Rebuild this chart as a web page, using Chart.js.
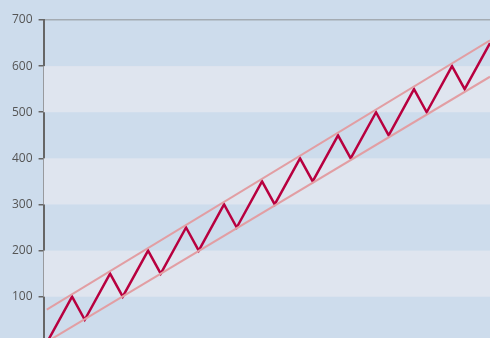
<!DOCTYPE html>
<html>
<head>
<meta charset="utf-8">
<script src="https://cdn.jsdelivr.net/npm/chart.js@4"></script>
<style>
  html, body { margin: 0; padding: 0; overflow: hidden; background: #cddcec; }
  #wrap { position: absolute; left: 0; top: 0; width: 490px; height: 356px; }
</style>
</head>
<body>
<div id="wrap"><canvas id="chart"></canvas></div>
<script>
// zigzag series
const zigX = [0, 2, 3, 5, 6, 8, 9, 11, 12, 14, 15, 17, 18, 20, 21, 23, 24, 26, 27, 29, 30, 32, 33, 35];
const zigY = [0, 100, 50, 150, 100, 200, 150, 250, 200, 300, 250, 350, 300, 400, 350, 450, 400, 500, 450, 550, 500, 600, 550, 650];

// channel lines (upper / lower)
const upperX = [0, 35];
const upperY = [72, 656];
const lowerX = [0, 35];
const lowerY = [2, 577];

// y axis
const yTicks = [0, 100, 200, 300, 400, 500, 600, 700];
const bands = [[100, 200], [300, 400], [500, 600]];

const toPoints = (xs, ys) => xs.map((x, i) => ({ x: x, y: ys[i] }));

const bandPlugin = {
    id: 'bands',
    beforeDatasetsDraw(chart) {
        const { ctx, chartArea, scales } = chart;
        ctx.save();
        ctx.fillStyle = '#dfe5ef';
        bands.forEach(b => {
            const y1 = scales.y.getPixelForValue(b[1]);
            const y0 = scales.y.getPixelForValue(b[0]);
            ctx.fillRect(chartArea.left, y1, chartArea.right - chartArea.left, y0 - y1);
        });
        ctx.restore();
    }
};

new Chart(document.getElementById('chart'), {
    type: 'line',
    data: {
        datasets: [
            {
                data: toPoints(upperX, upperY),
                borderColor: '#e29ea3',
                borderWidth: 2,
                pointRadius: 0
            },
            {
                data: toPoints(lowerX, lowerY),
                borderColor: '#e29ea3',
                borderWidth: 2,
                pointRadius: 0
            },
            {
                data: toPoints(zigX, zigY),
                borderColor: '#b8003f',
                borderWidth: 2.5,
                pointRadius: 0,
                tension: 0
            }
        ]
    },
    options: {
        responsive: true,
        maintainAspectRatio: false,
        animation: false,
        layout: { padding: { left: 6, top: 20, right: 0, bottom: 0 } },
        plugins: { legend: { display: false }, tooltip: { enabled: false } },
        scales: {
            x: { type: 'linear', min: -0.25, max: 35, display: false },
            y: {
                min: 0,
                max: 700,
                afterBuildTicks: axis => { axis.ticks = yTicks.map(v => ({ value: v })); },
                border: { color: '#666', width: 2 },
                grid: {
                    color: c => c.tick && c.tick.value === 700 ? '#a4abb2' : 'rgba(0,0,0,0)',
                    lineWidth: 1.5,
                    tickColor: '#666',
                    tickLength: 5
                },
                ticks: {
                    color: c => c.tick && c.tick.value === 0 ? 'rgba(0,0,0,0)' : '#555',
                    padding: 6,
                    font: { family: "'Open Sans', sans-serif", size: 12 }
                }
            }
        }
    },
    plugins: [bandPlugin]
});
</script>
</body>
</html>
